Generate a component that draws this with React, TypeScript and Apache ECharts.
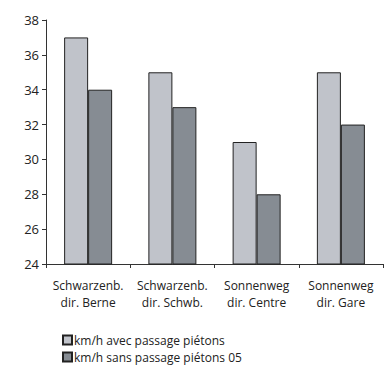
import React, { useEffect, useRef } from "react";
import * as echarts from "echarts";

const categories = [
  "Schwarzenb.\ndir. Berne",
  "Schwarzenb.\ndir. Schwb.",
  "Sonnenweg\ndir. Centre",
  "Sonnenweg\ndir. Gare",
];
const avecPassage = [37, 35, 31, 35];
const sansPassage = [34, 33, 28, 32];
const seriesNames = ["km/h avec passage piétons", "km/h sans passage piétons 05"];

const FONT = "'Open Sans', 'Noto Sans', sans-serif";

// one legend per row so the entries stack like a list
const legendRow = (name: string, pos: Record<string, number>) => ({
  orient: "horizontal",
  left: 62,
  ...pos,
  padding: 0,
  itemWidth: 9,
  itemHeight: 9,
  itemGap: 0,
  icon: "rect",
  textStyle: { color: "#222", fontSize: 12, fontFamily: FONT, padding: [0, 0, 0, -3] },
  data: [name],
});

export default function App() {
  const ref = useRef<HTMLDivElement>(null);

  useEffect(() => {
    document.body.style.margin = "0";
    document.body.style.overflow = "hidden";
    if (!ref.current) return;
    const chart = echarts.init(ref.current, null, { renderer: "svg" });
    chart.setOption({
      animation: false,
      backgroundColor: "#ffffff",
      textStyle: { fontFamily: FONT, color: "#222" },
      grid: { left: 46, right: 7, top: 20, bottom: 105, containLabel: false },
      xAxis: {
        type: "category",
        data: categories,
        axisLine: { lineStyle: { color: "#333", width: 1 } },
        axisTick: { show: true, length: 4, lineStyle: { color: "#333" } },
        axisLabel: {
          color: "#222",
          fontSize: 12,
          fontFamily: FONT,
          lineHeight: 17,
          margin: 13,
          interval: 0,
        },
      },
      yAxis: {
        type: "value",
        min: 24,
        max: 38,
        interval: 2,
        splitLine: { show: false },
        axisLine: { show: true, lineStyle: { color: "#333", width: 1 } },
        axisTick: { show: true, length: 4, lineStyle: { color: "#333" } },
        axisLabel: { color: "#222", fontSize: 13, fontFamily: FONT, margin: 7 },
      },
      legend: [
        legendRow(seriesNames[0], { top: 334 }),
        legendRow(seriesNames[1], { top: 351 }),
      ],
      series: [
        {
          name: seriesNames[0],
          type: "bar",
          data: avecPassage,
          barWidth: 24,
          barGap: "0%",
          itemStyle: { color: "#c0c3ca", borderColor: "#222", borderWidth: 1 },
        },
        {
          name: seriesNames[1],
          type: "bar",
          data: sansPassage,
          barWidth: 24,
          barGap: "0%",
          itemStyle: { color: "#868c93", borderColor: "#222", borderWidth: 1 },
        },
      ],
    });
    return () => chart.dispose();
  }, []);

  return <div ref={ref} style={{ width: 390, height: 369 }} />;
}
